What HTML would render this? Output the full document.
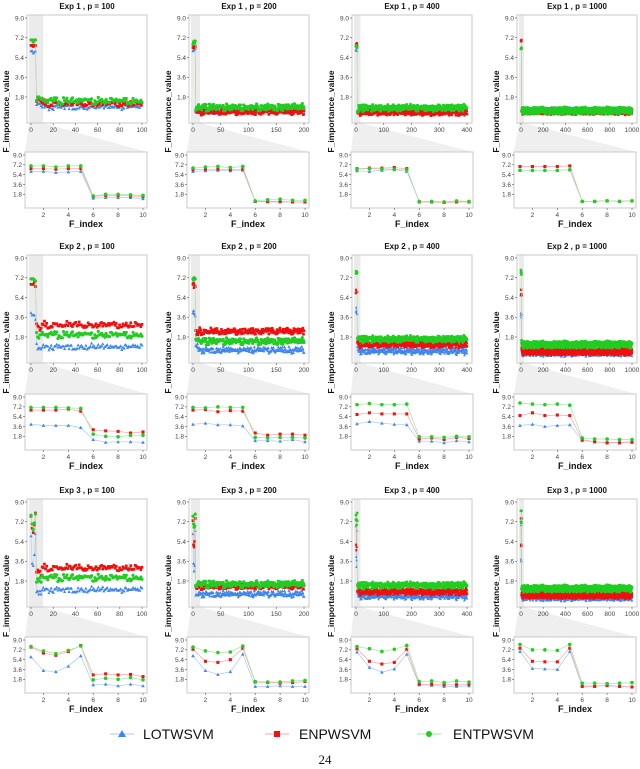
<!DOCTYPE html>
<html><head><meta charset="utf-8"><style>
html,body{margin:0;padding:0;background:#fff;}
svg{display:block;font-family:"Liberation Sans",sans-serif;}
</style></head><body>
<svg id="fig" width="640" height="769" viewBox="0 0 640 769" xmlns="http://www.w3.org/2000/svg">
<g id="panels"></g>
<g>
 <g>
  <line x1="110" y1="734" x2="134" y2="734" stroke="#a8c8f5" stroke-width="1"/>
  <polygon points="122,730 126,737 118,737" fill="#3f86ee"/>
  <text x="143" y="739" font-size="14" fill="#111">LOTWSVM</text>
 </g>
 <g>
  <line x1="265" y1="734" x2="289" y2="734" stroke="#f5a5a5" stroke-width="1"/>
  <rect x="274" y="731" width="6" height="6" fill="#ee1111"/>
  <text x="299" y="739" font-size="14" fill="#111">ENPWSVM</text>
 </g>
 <g>
  <line x1="417" y1="734" x2="441" y2="734" stroke="#a5e5a5" stroke-width="1"/>
  <circle cx="429" cy="734" r="3" fill="#22cc22"/>
  <text x="453" y="739" font-size="14" fill="#111">ENTPWSVM</text>
 </g>
</g>
<text x="325" y="764" font-size="13" text-anchor="middle" font-family="Liberation Serif, serif" fill="#111">24</text>
</svg>
<script>
// ---- data ----
const expNames = ["Exp 1","Exp 2","Exp 3"];
const pValues = [100,200,400,1000];
const xTicks100 = [0,20,40,60,80,100];
const xTicks200 = [0,50,100,150,200];
const xTicks400 = [0,100,200,300,400];
const xTicks1000 = [0,200,400,600,800,1000];
const yTickLabels = ["1.8","3.6","5.4","7.2","9.0"];
const zoomXTicks = [2,4,6,8,10];
const seriesNames = ["LOTWSVM","ENPWSVM","ENTPWSVM"];
// top-10 feature importances [exp][p][series]
const e1p100 = [[6.0,6.0,5.8,5.9,6.0,1.1,1.2,1.2,1.2,1.0],[6.5,6.5,6.4,6.5,6.5,1.4,1.6,1.6,1.5,1.4],[7.0,7.0,6.8,7.0,7.0,1.5,1.8,1.8,1.7,1.6]];
const e1p200 = [[6.0,6.1,6.2,6.1,6.2,0.5,0.4,0.4,0.4,0.4],[6.3,6.4,6.4,6.3,6.4,0.5,0.5,0.5,0.4,0.4],[6.6,6.8,6.9,6.7,6.9,0.6,0.8,0.9,0.7,0.7]];
const e1p400 = [[6.1,6.0,6.2,6.3,6.0,0.5,0.5,0.4,0.5,0.5],[6.5,6.6,6.6,6.7,6.5,0.4,0.4,0.3,0.4,0.4],[6.4,6.5,6.4,6.4,6.3,0.5,0.5,0.4,0.6,0.5]];
const e1p1000 = [[6.2,6.2,6.2,6.2,6.3,0.5,0.5,0.6,0.5,0.6],[6.9,6.9,6.9,6.9,7.0,0.5,0.5,0.6,0.5,0.6],[6.2,6.2,6.2,6.2,6.3,0.5,0.5,0.6,0.5,0.6]];
const e2p100 = [[4.0,3.8,3.8,3.8,3.4,1.2,0.7,0.8,0.8,0.7],[6.6,6.6,6.6,6.8,6.4,3.0,2.8,2.7,2.4,2.6],[7.1,7.1,7.1,7.0,6.9,2.2,1.8,1.7,2.0,2.0]];
const e2p200 = [[4.0,4.2,3.9,3.9,3.7,1.0,1.0,0.9,1.2,0.8],[6.6,6.7,6.3,6.5,6.4,2.4,2.0,2.2,2.2,2.0],[7.1,7.0,7.2,7.1,7.1,1.6,1.5,1.6,1.6,1.5]];
const e2p400 = [[4.1,4.5,4.2,4.0,3.9,0.9,0.9,0.6,1.0,0.8],[5.8,6.1,5.9,5.9,5.9,1.3,1.5,1.2,1.6,1.4],[7.6,7.8,7.6,7.6,7.7,1.7,1.7,1.6,1.8,1.7]];
const e2p1000 = [[3.8,4.0,3.6,3.8,3.9,1.0,0.8,0.7,0.7,0.8],[5.6,6.1,5.6,5.7,5.6,1.2,0.8,0.6,0.6,0.7],[7.9,7.7,7.6,7.7,7.5,1.5,1.3,1.3,1.2,1.2]];
const e3p100 = [[5.9,3.4,3.2,4.2,6.1,0.8,0.9,0.6,0.9,0.6],[7.7,6.6,6.2,6.9,8.0,2.6,2.8,2.6,2.7,2.3],[7.8,7.0,6.5,7.1,7.9,1.7,2.0,1.8,2.1,1.7]];
const e3p200 = [[6.1,3.4,2.7,3.2,6.4,0.5,0.5,0.6,0.5,0.5],[7.3,5.1,4.9,5.4,7.5,1.3,1.2,1.1,1.2,1.4],[7.7,7.0,6.7,6.8,7.9,1.4,1.3,1.3,1.5,1.6]];
const e3p400 = [[6.8,4.0,3.1,3.7,6.4,0.8,0.7,0.5,0.5,0.6],[7.4,5.1,4.6,4.9,7.3,0.9,0.9,0.8,0.8,0.9],[7.8,7.4,6.9,7.3,8.0,1.4,1.5,1.2,1.5,1.3]];
const e3p1000 = [[6.9,3.8,3.7,3.6,6.9,0.6,0.6,0.6,0.5,0.4],[7.5,5.1,5.0,5.0,7.5,0.5,0.5,0.7,0.5,0.4],[8.2,7.2,7.2,7.1,8.2,1.1,1.1,1.0,1.1,1.2]];
const top10 = [[e1p100,e1p200,e1p400,e1p1000],[e2p100,e2p200,e2p400,e2p1000],[e3p100,e3p200,e3p400,e3p1000]];
// noise-feature level per [exp][p] -> [blue, red, green]
const noiseLevels = [
 [[0.9,1.2,1.45],[0.5,0.45,0.85],[0.45,0.4,0.8],[0.55,0.5,0.55]],
 [[0.9,2.9,2.0],[0.6,2.3,1.4],[0.5,1.1,1.6],[0.35,0.45,1.1]],
 [[1.0,3.0,2.1],[0.6,1.3,1.5],[0.4,0.8,1.4],[0.3,0.5,1.1]]
];
// hand-read jitter pattern for the noise features
const jitter = [0.12,-0.18,0.05,0.22,-0.08,-0.25,0.15,0.02,-0.12,0.19,-0.02,0.09,-0.21,0.26,-0.05,0.11,-0.15,0.07,0.18,-0.1,-0.03,0.24,-0.19,0.04,0.13,-0.07,-0.23,0.16,0.01,-0.14,0.2,-0.09,0.08,-0.17,0.03,0.14,-0.04];

// ---- layout ----
const colMainL=[27,189,352,517], colZoomL=[25,187,351,514];
const rowMainT=[15,255,499], rowZoomT=[152,394,637];
const MW=120, MH=108, ZW=122, ZH=56;
const colors=["#3f86ee","#ee1111","#22cc22"], lineColors=["#a8c8f5","#f5a5a5","#a5e5a5"];
const NS="http://www.w3.org/2000/svg";
const root=document.getElementById("panels");
function mk(tag,attrs,parent){const e=document.createElementNS(NS,tag);for(const k in attrs)e.setAttribute(k,attrs[k]);(parent||root).appendChild(e);return e;}
function marker(s,x,y,r,g){
 let e;
 if(s===0){e=mk("polygon",{points:`${x},${y-r} ${x+r},${y+r*0.8} ${x-r},${y+r*0.8}`,fill:colors[0]},g);}
 else if(s===1){e=mk("rect",{x:x-r*0.85,y:y-r*0.85,width:r*1.7,height:r*1.7,fill:colors[1]},g);}
 else {e=mk("circle",{cx:x,cy:y,r:r,fill:colors[2]},g);}
 
 
}
function seriesValues(ei,pi,s){
 const p=pValues[pi], v=top10[ei][pi][s].slice();
 const lvl=noiseLevels[ei][pi][s];
 const n=jitter.length;
 for(let i=10;i<p;i++){
  const a=jitter[(i*7+Math.floor(i/n)*5+s*11)%n];
  const b=jitter[(i*13+Math.floor(i/5)+s*3)%n];
  v.push(lvl+a*0.9+b*0.5);
 }
 return v;
}
const tickSets=[xTicks100,xTicks200,xTicks400,xTicks1000];
for(let r=0;r<3;r++)for(let c=0;c<4;c++){
 const g=mk("g",{});
 
 
 const L=colMainL[c],T=rowMainT[r],ZL=colZoomL[c],ZT=rowZoomT[r],p=pValues[c];
 const xs=i=>L+4+(i-1)/(p-1)*(MW-9);
 const ys=v=>T+3+(9-v)*(79/7.2);
 const zx=i=>ZL+6+(i-1)/9*(ZW-10);
 const zy=v=>ZT+3+(9-v)*5.46;
 const sL=xs(1)-2, sR=Math.max(xs(10)+2,sL+3);
 const poly=mk("polygon",{points:`${sL},${T+MH} ${sR},${T+MH} ${ZL+ZW},${ZT} ${ZL},${ZT}`,fill:"#efefef"},g);
 
 const sh=mk("rect",{x:sL,y:T,width:sR-sL,height:MH,fill:"#ebebeb"},g);
 
 const mb=mk("rect",{x:L,y:T,width:MW,height:MH,fill:"none",stroke:"#c8c8c8","stroke-width":1},g);
 
 const zb=mk("rect",{x:ZL,y:ZT,width:ZW,height:ZH,fill:"#fff",stroke:"#c8c8c8","stroke-width":1},g);
 
 const t=mk("text",{x:L+MW/2,y:T-6,"font-size":8,"font-weight":"bold","text-anchor":"middle",fill:"#111"},g);
 t.textContent=`${expNames[r]} , p =  ${p}`;
 
 const yl=mk("text",{x:0,y:0,"font-size":8.5,"font-weight":"bold","text-anchor":"middle",fill:"#111",transform:`translate(${L-18},${(T+ZT+ZH)/2}) rotate(-90)`},g);
 yl.textContent="F_importance_value";
 
 const xl=mk("text",{x:ZL+ZW/2,y:ZT+ZH+19,"font-size":9,"font-weight":"bold","text-anchor":"middle",fill:"#111"},g);
 xl.textContent="F_index";
 
 yTickLabels.forEach(lab=>{
  const v=parseFloat(lab);
  [[L,ys(v),"main"],[ZL,zy(v),"zoom"]].forEach(([bx,y,kind])=>{
   mk("line",{x1:bx-2,x2:bx,y1:y,y2:y,stroke:"#555","stroke-width":0.6},g);
   const tt=mk("text",{x:bx-3,y:y+2.3,"font-size":6.5,"text-anchor":"end",fill:"#444"},g);
   tt.textContent=lab;
   
  });
 });
 tickSets[c].forEach(tv=>{
  const x=L+4+tv/p*(MW-9);
  mk("line",{x1:x,x2:x,y1:T+MH,y2:T+MH+2,stroke:"#555","stroke-width":0.6},g);
  const tt=mk("text",{x:x,y:T+MH+9,"font-size":6.5,"text-anchor":"middle",fill:"#444"},g);
  tt.textContent=tv;
  
 });
 zoomXTicks.forEach(tv=>{
  const x=zx(tv);
  mk("line",{x1:x,x2:x,y1:ZT+ZH,y2:ZT+ZH+2,stroke:"#555","stroke-width":0.6},g);
  const tt=mk("text",{x:x,y:ZT+ZH+9,"font-size":6.5,"text-anchor":"middle",fill:"#444"},g);
  tt.textContent=tv;
  
 });
 for(let s=0;s<3;s++){
  const vals=seriesValues(r,c,s);
  const sg=mk("g",{},g);
  
  
  const mp=vals.map((v,i)=>`${xs(i+1).toFixed(1)},${ys(v).toFixed(1)}`).join(" ");
  mk("polyline",{points:mp,fill:"none",stroke:lineColors[s],"stroke-width":0.5},sg);
  const rad=p>=400?1.4:1.6;
  vals.forEach((v,i)=>marker(s,xs(i+1),ys(v),rad,sg));
  const zs=vals.slice(0,10);
  const zp=zs.map((v,i)=>`${zx(i+1).toFixed(1)},${zy(v).toFixed(1)}`).join(" ");
  mk("polyline",{points:zp,fill:"none",stroke:lineColors[s],"stroke-width":0.7},sg);
  zs.forEach((v,i)=>marker(s,zx(i+1),zy(v),1.8,sg));
 }
}
</script>
</body></html>
